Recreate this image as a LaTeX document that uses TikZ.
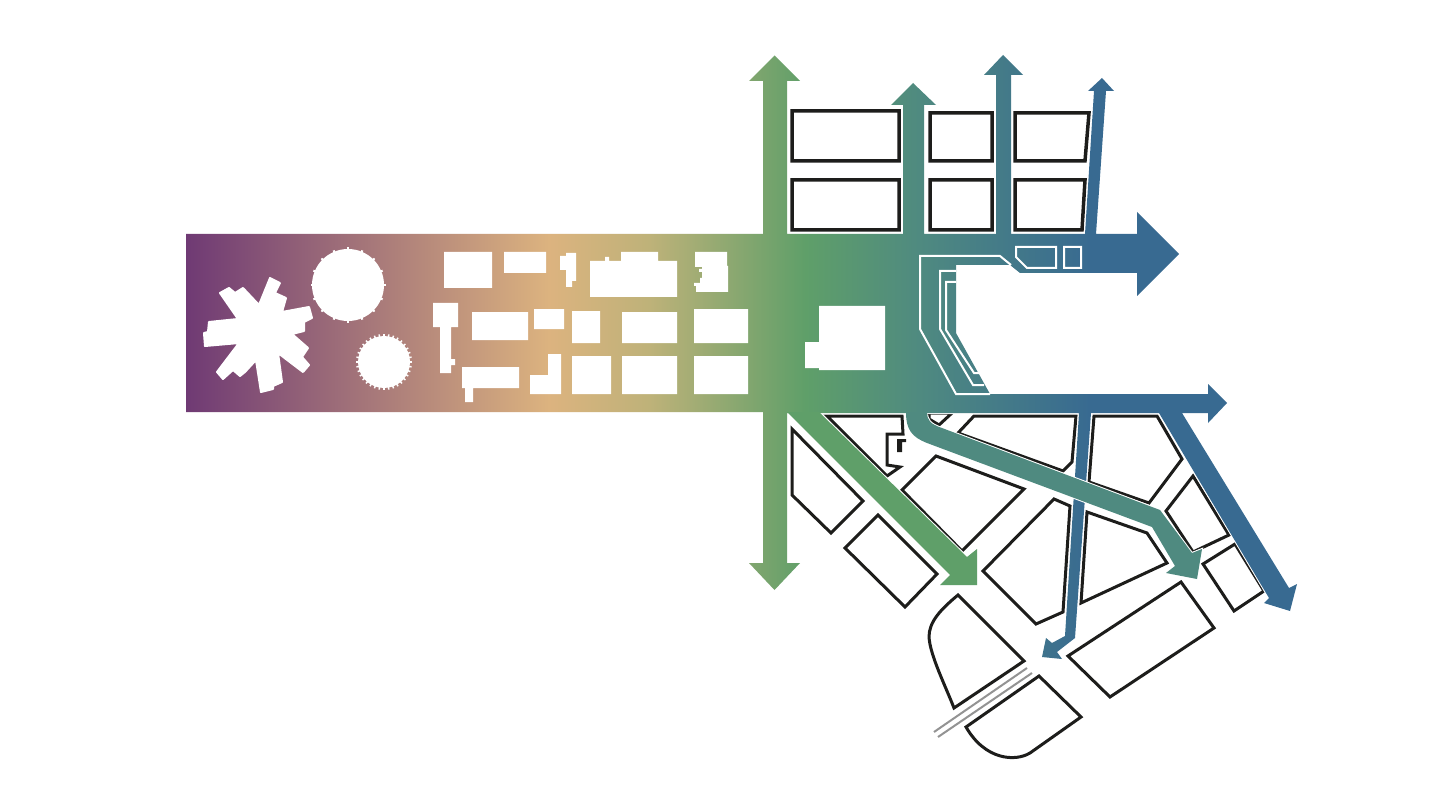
\documentclass[tikz,border=0pt]{standalone}
\usetikzlibrary{calc}
\definecolor{ink}{HTML}{1D1D1B}
\definecolor{leaf}{HTML}{5F9F69}
\definecolor{sea}{HTML}{4F8A80}
\definecolor{plum}{HTML}{6F3A74}
\definecolor{sand}{HTML}{DCB37F}
\definecolor{moss}{HTML}{BEB279}
\definecolor{ocean}{HTML}{386A91}
\pgfdeclarehorizontalshading{barfade}{100bp}{
	color(0bp)=(plum);
	color(25bp)=(plum);
	color(41.3bp)=(sand);
	color(45.8bp)=(moss);
	color(52.8bp)=(leaf);
	color(57.9bp)=(sea);
	color(65.6bp)=(ocean);
	color(100bp)=(ocean)}
\newcommand{\bodyoutline}{(186,234)--(763,234)--(763,81)--(749,81)--(774.5,55.5)--(800,81)--(787,81)--(787,234)--(903,234)--(903,105)--(891,105)--(913,83)--(936,105)--(924,105)--(924,234)--(996,234)--(996,75)--(984,75)--(1003,55)--(1023,75)--(1011,75)--(1011,234)--(1085,234)--(1094,91)--(1088,91)--(1102,78)--(1114,91)--(1106,91)--(1096,234)--(1137,234)--(1137,212)--(1179,254)--(1137,296)--(1137,273)--(1020,273)--(1010,265)--(956,265)--(956,333)--(990,394)--(1208,394)--(1208,384)--(1227,403)--(1208,423)--(1208,413)--(1182,413)--(1289,588)--(1297,584)--(1290,611)--(1264,603)--(1269,598)--(1159,413)--(1091,413)--(1075,638)--(1057,652)--(1062,659)--(1042,657)--(1046,638)--(1052,643)--(1065,636)--(1079,413)--(787,413)--(787,563)--(800,563)--(774.5,590)--(749,563)--(763,563)--(763,412)--(186,412)--cycle}
\newcommand{\leafarrow}{(787,412)--(950,575)--(940,585)--(977,585)--(977,549)--(967,557)--(819,412)--cycle}
\newcommand{\seaarrow}{(906,412) .. controls (906,430) and (912,437) .. (927,443)--(1152,527)--(1175,566)--(1166,573)--(1197,579)--(1202,549)--(1192,553)--(1160,510)--(942,428) .. controls (930,424) and (927,420) .. (927,412)--cycle}
\tikzset{
	plot/.style={draw=ink,line width=3pt,fill=white},
	upperplot/.style={plot,line width=3.5pt},
	halo/.style={draw=white,line width=2pt},
	trace/.style={draw=white,line width=2pt},
	footprint/.style={fill=white},
	rail/.style={draw=gray!85,line width=2pt}
}
\begin{document}
\begin{tikzpicture}[x=1pt,y=-1pt,line join=miter]
	\useasboundingbox (0,0) rectangle (1440,810);
	\draw[upperplot] (792,111)--(899,111)--(899,161)--(792,161)--cycle (792,180)--(899,180)--(899,230)--(792,230)--cycle
		(930,113)--(992,113)--(992,161)--(930,161)--cycle (930,180)--(992,180)--(992,230)--(930,230)--cycle
		(1015,113)--(1089,113)--(1085,161)--(1015,161)--cycle (1015,180)--(1085,180)--(1082,230)--(1015,230)--cycle;
	\draw[plot] (792,429)--(863,501)--(831,533)--(792,495)--cycle (878,515)--(937,574)--(905,607)--(845,548)--cycle
		(827,416)--(902,416)--(903,434)--(887,434)--(887,465)--(900,467)--(887,476)--cycle
		(929,413)--(952,413)--(939,425)--(929,419)--cycle
		(974,416)--(1076,416)--(1072,462)--(1063,471)--(958,433)--cycle
		(936,456)--(1024,489)--(962,551)--(902,490)--cycle
		(1054,499)--(1070,506)--(1063,612)--(1036,624)--(983,571)--cycle
		(1094,416)--(1157,416)--(1182,459)--(1149,503)--(1089,482)--cycle
		(1193,476)--(1229,535)--(1193,552)--(1166,511)--cycle
		(1235,544)--(1264,591)--(1234,611)--(1203,564)--cycle
		(1087,512)--(1147,533)--(1167,563)--(1081,603)--cycle
		(1181,582)--(1214,628)--(1110,697)--(1068,656)--cycle
		(958,595)--(1024,661)--(954,708) .. controls (945,685) and (930,655) .. (929,637) .. controls (929,622) and (940,610) .. (958,595)--cycle
		(1039,676)--(1081,717)--(1030,753) .. controls (1015,762) and (985,760) .. (966,727)--cycle;
	\fill[ink] (897,439)--(906,439)--(906,442)--(902,442)--(902,452)--(897,452)--cycle;
	\draw[rail] (1027,668)--(934,732) (1032,673)--(938,737);
	\draw[halo] \bodyoutline;
	\begin{scope}
		\clip \bodyoutline;
		\shade[shading=barfade] (186,40) rectangle (1300,700);
	\end{scope}
	\begin{scope}
		\clip (700,415) rectangle (1300,700);
		\draw[halo] \leafarrow;
		\draw[halo] \seaarrow;
	\end{scope}
	\fill[leaf] \leafarrow;
	\fill[sea] \seaarrow;
	\draw[trace] (1016,247)--(1056,247)--(1056,268)--(1027,268)--(1016,257)--cycle (1064,247)--(1081,247)--(1081,268)--(1064,268)--cycle;
	\draw[trace] (1011,265)--(1000,256)--(920,256)--(920,329)--(956,394)--(990,394);
	\draw[trace] (956,271)--(940,271)--(940,329)--(973,385)--(984,385);
	\draw[trace] (956,282)--(946,282)--(946,330)--(974,373)--(982,373);
	\draw[white,fill=white,line width=2pt,line join=round] (220,293)--(229,288)--(235,293)--(243,288)--(259,305)--(270,278)--(280,283)--(275,293)--(286,298)--(282,312)--(309,307)--(312,318)--(304,322)--(304,331)--(292,334)--(308,348)--(302,357)--(309,365)--(303,372)--(278,353)--(282,382)--(273,386)--(273,389)--(261,392)--(256,360)--(245,372)--(240,376)--(233,370)--(223,379)--(217,372)--(239,343)--(205,346)--(204,333)--(208,332)--(209,322)--(238,319)--cycle;
	\fill[footprint] (348,285) circle (36) (384,362) circle (26);
	\foreach \ang in {0,22.5,...,337.5}
		\draw[white,line width=2pt] ($(348,285)+(\ang:35)$)--($(348,285)+(\ang:37.5)$);
	\foreach \ang in {0,10,...,350}
		\draw[white,line width=1.5pt] ($(384,362)+(\ang:25)$)--($(384,362)+(\ang:28)$);
	\fill[footprint] (444,252) rectangle (492,288) (504,252) rectangle (546,273)
		(560,256)--(566,256)--(566,253)--(576,253)--(576,281)--(572,281)--(572,287)--(566,287)--(566,270)--(560,270)--cycle
		(590,261)--(605,261)--(605,257)--(609,257)--(609,261)--(621,261)--(621,252)--(658,252)--(658,261)--(677,261)--(677,297)--(590,297)--cycle
		(695,252)--(727,252)--(727,266)--(728,266)--(728,292)--(696,292)--(696,286)--(694,286)--(694,283)--(700,283)--(700,278)--(702,278)--(702,272)--(699,272)--(699,269)--(702,269)--(702,267)--(695,267)--cycle
		(433,303)--(458,303)--(458,327)--(451,327)--(451,359)--(455,359)--(455,365)--(451,365)--(451,373)--(440,373)--(440,327)--(433,327)--cycle
		(472,312) rectangle (528,340) (534,309) rectangle (564,329) (572,311) rectangle (600,343) (622,312) rectangle (677,343) (694,309) rectangle (748,343)
		(462,367)--(519,367)--(519,388)--(473,388)--(473,402)--(465,402)--(465,388)--(462,388)--cycle
		(548,354)--(561,354)--(561,394)--(530,394)--(530,375)--(548,375)--cycle
		(572,356) rectangle (611,394) (622,356) rectangle (677,394) (694,356) rectangle (748,394)
		(819,306)--(885,306)--(885,370)--(819,370)--(819,368)--(805,368)--(805,342)--(819,342)--cycle;
\end{tikzpicture}
\end{document}
